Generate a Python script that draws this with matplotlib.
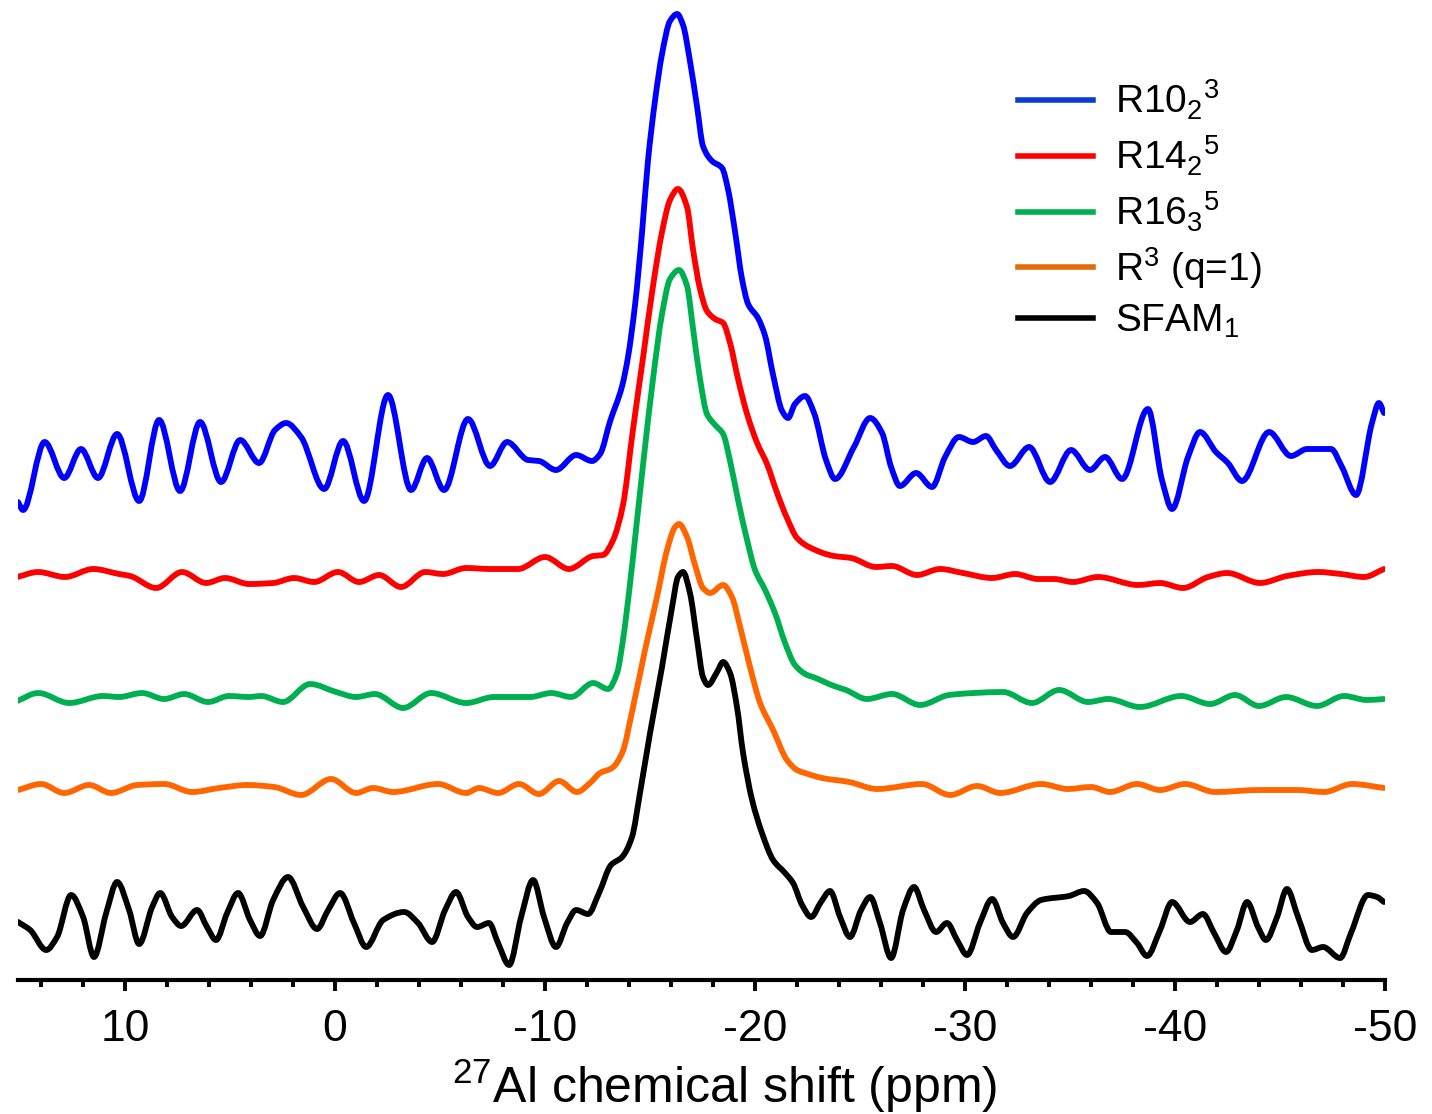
import matplotlib
matplotlib.use("Agg")
import matplotlib.pyplot as plt
from matplotlib.lines import Line2D
from matplotlib.path import Path
from matplotlib.patches import PathPatch

# ---------------- data (ppm, relative intensity) ----------------
blue_ppm = [15.10, 14.86, 13.83, 12.90, 12.10, 11.29, 10.38, 9.33, 8.38, 7.38, 6.43, 5.43, 4.52, 3.62,
            2.86, 2.33, 1.62, 0.52, -0.38, -1.38, -2.52, -3.62, -4.38, -5.19, -6.33, -7.38, -8.19,
            -9.19, -9.71, -10.52, -11.48, -12.24, -12.62, -13.10, -13.67, -13.95, -14.29, -14.62,
            -14.90, -15.24, -15.57, -15.95, -16.29, -16.57, -16.90, -17.24, -17.52, -17.95, -18.43,
            -18.71, -19.05, -19.38, -19.67, -20.14, -20.48, -20.86, -21.29, -21.57, -21.90, -22.38,
            -22.81, -23.38, -23.81, -24.71, -25.48, -26.05, -26.48, -26.90, -27.67, -28.43, -29.05,
            -29.71, -30.38, -31.00, -31.48, -32.14, -33.05, -34.05, -35.05, -35.95, -36.67, -37.48,
            -38.71, -39.38, -39.86, -40.62, -41.19, -41.95, -42.52, -43.19, -44.48, -45.52, -46.29,
            -47.43, -47.95, -48.62, -49.38, -49.71, -49.95]
blue_int = [-42, -50, 18, -18, 11, -18, 26, -41, 40, -31, 38, -22, 20, -3,
            30, 37, 23, -29, 19, -41, 65, -30, 2, -30, 41, -6, 18,
            0, -1, -10, 5, -1, 6, 39, 74, 103, 156, 228,
            299, 360, 406, 439, 446, 435, 399, 353, 314, 299, 292,
            271, 228, 181, 156, 142, 124, 85, 49, 42, 56, 64,
            47, 0, -19, 13, 42, 27, -7, -26, -13, -27, 3,
            23, 18, 24, 10, -6, 13, -22, 10, -10, 3, -19,
            51, -20, -49, 3, 28, 8, -3, -21, 28, 4, 11,
            11, -7, -35, 37, 57, 47]

red_ppm = [15.14, 14.14, 12.86, 11.52, 10.29, 9.76, 8.52, 7.29, 6.14, 5.24, 4.10, 2.95, 1.95, 1.00,
           -0.14, -1.14, -2.10, -3.14, -4.29, -5.14, -6.24, -7.38, -8.71, -10.00, -11.14, -12.29,
           -12.76, -13.24, -13.71, -14.19, -14.67, -15.14, -15.57, -15.95, -16.33, -16.76, -17.05,
           -17.38, -17.71, -18.10, -18.48, -18.81, -19.19, -19.62, -20.10, -20.57, -21.05, -21.52,
           -22.00, -22.57, -23.76, -24.57, -25.76, -26.52, -27.71, -28.81, -29.90, -31.29, -32.38,
           -33.48, -34.24, -35.14, -36.33, -38.24, -39.29, -40.38, -41.57, -42.48, -44.05, -45.33,
           -46.81, -47.90, -49.00, -49.95]
red_int = [-2, 3, -2, 6, 1, -1, -13, 3, -8, -3, -9, -8, -3, -7,
           3, -7, 0, -12, 3, 1, 7, 6, 6, 18, 6, 19,
           20, 35, 70, 146, 218, 289, 343, 375, 386, 368, 325,
           286, 264, 256, 252, 232, 196, 161, 132, 111, 82, 57,
           37, 28, 19, 17, 8, 9, 0, 6, 2, -3, 1,
           -4, -4, -7, -2, -10, -8, -13, -2, 2, -8, -1,
           3, 1, -2, 6]

green_ppm = [15.14, 14.14, 12.67, 11.05, 10.29, 9.19, 8.14, 7.19, 6.05, 5.05, 4.10, 3.52, 2.48, 1.19,
             -0.05, -1.00, -1.90, -3.24, -4.57, -6.24, -7.57, -9.29, -10.29, -11.24, -12.29, -13.00,
             -13.43, -13.71, -14.05, -14.38, -14.67, -15.14, -15.57, -15.95, -16.38, -16.76, -17.05,
             -17.38, -17.71, -18.10, -18.48, -18.81, -19.19, -19.62, -20.00, -20.48, -20.95, -21.43,
             -21.90, -22.48, -22.76, -23.76, -24.33, -25.33, -26.52, -27.86, -29.24, -30.43, -31.81,
             -33.19, -34.48, -35.86, -36.81, -38.33, -40.29, -41.67, -42.86, -44.00, -45.29, -46.76,
             -48.05, -49.14, -49.95]
green_int = [-4, 4, -6, 1, 0, 4, -2, 3, -5, 1, 0, 1, -5, 13,
             5, 0, 3, -11, 4, -6, 0, 0, 4, 0, 14, 8,
             24, 57, 114, 177, 233, 318, 383, 418, 427, 411, 368,
             318, 283, 272, 263, 236, 197, 157, 127, 107, 84, 54,
             32, 22, 20, 11, 7, -2, 3, -8, 2, 4, 5,
             -6, 7, -5, -2, -10, 1, -7, 2, -9, 0, -9,
             1, -3, -2]

orange_ppm = [15.10, 14.00, 12.90, 11.71, 10.67, 9.43, 8.14, 6.81, 5.52, 4.19, 2.90, 1.62, 0.19, -1.00,
              -1.81, -2.76, -4.90, -6.24, -6.86, -7.76, -8.76, -9.71, -10.67, -11.52, -12.14, -12.62,
              -13.19, -13.67, -14.19, -14.76, -15.33, -15.81, -16.19, -16.38, -16.76, -17.14, -17.52,
              -17.86, -18.48, -18.90, -19.29, -19.76, -20.24, -20.86, -21.52, -22.00, -22.52, -23.19,
              -24.48, -25.81, -27.95, -29.29, -30.57, -31.67, -33.62, -34.90, -36.00, -36.90, -38.19,
              -39.29, -40.48, -41.90, -44.05, -45.81, -47.10, -48.43, -49.95]
orange_int = [-2, 4, -5, 3, -5, 3, 4, -4, 0, 3, 1, -7, 9, -5,
              0, -4, 4, -5, 0, -5, 4, -6, 7, -4, 5, 15,
              20, 35, 81, 138, 191, 238, 261, 264, 251, 223, 200,
              195, 203, 191, 161, 121, 85, 58, 28, 18, 14, 10,
              6, -1, 4, -7, 2, -5, 4, -1, 1, -4, 4,
              -2, 4, -4, -2, -2, -4, 4, 0]

black_ppm = [15.10, 14.52, 13.76, 13.24, 12.57, 12.00, 11.48, 10.90, 10.38, 9.81, 9.33, 8.71, 8.33, 7.76,
             7.33, 6.57, 6.10, 5.67, 5.14, 4.62, 4.05, 3.57, 2.95, 2.24, 1.52, 0.86, 0.33, -0.24,
             -0.90, -1.48, -2.29, -3.29, -3.95, -4.62, -5.24, -5.76, -6.33, -6.76, -7.33, -7.76,
             -8.29, -8.86, -9.43, -9.95, -10.52, -11.05, -11.48, -12.05, -12.57, -13.14, -13.67,
             -14.14, -14.52, -15.00, -15.57, -16.05, -16.33, -16.57, -16.90, -17.24, -17.52, -17.76,
             -18.19, -18.48, -18.81, -19.14, -19.43, -19.86, -20.33, -20.86, -21.43, -21.81, -22.24,
             -22.67, -23.14, -23.57, -24.05, -24.52, -25.05, -25.48, -25.95, -26.48, -27.05, -27.57,
             -28.05, -28.62, -29.14, -29.62, -30.10, -30.71, -31.29, -31.81, -32.29, -32.95, -33.62,
             -34.95, -35.67, -36.29, -36.95, -37.62, -38.19, -38.67, -39.29, -39.86, -40.71, -41.33,
             -41.86, -42.43, -42.95, -43.43, -43.95, -44.33, -44.86, -45.33, -45.86, -46.52, -47.05,
             -47.86, -48.38, -49.19, -49.62, -49.95]
black_int = [-7, -15, -35, -22, 20, -2, -42, 2, 33, 5, -29, 8, 22, -2,
             -11, 5, -12, -25, 2, 22, -5, -21, 15, 38, 8, -14, 5, 22,
             -8, -32, -5, 3, -8, -27, 5, 23, -2, -12, -8, -28,
             -50, -2, 35, -2, -32, -8, 5, 1, 22, 50, 58,
             78, 122, 182, 248, 308, 338, 343, 322, 275, 238, 230,
             243, 253, 242, 208, 162, 115, 82, 55, 42, 32, 10,
             -2, 13, 24, -2, -22, 5, 18, -8, -43, 5, 28,
             5, -17, -8, -25, -40, -8, 16, -8, -22, 2, 15,
             19, 24, 12, -17, -17, -28, -41, -15, 13, -7, 1,
             -18, -37, -15, 13, -12, -25, -2, 26, -2, -35, -32,
             -43, -18, 20, 18, 13]

labels = ["R10$_{2}$$^{3}$", "R14$_{2}$$^{5}$", "R16$_{3}$$^{5}$", "R$^{3}$ (q=1)", "SFAM$_{1}$"]
colors = ["#0000FF", "#FF0000", "#00B050", "#FF6600", "#000000"]
legend_colors = ["#0A3CD2", "#FF0000", "#00B050", "#E46C0A", "#000000"]
offsets = [520, 405, 283, 192, 65]   # vertical stacking of the spectra

major_ticks = [10, 0, -10, -20, -30, -40, -50]
minor_ticks = [14, 12, 8, 6, 4, 2, -2, -4, -6, -8, -12, -14, -16, -18, -22, -24, -26, -28,
               -32, -34, -36, -38, -42, -44, -46, -48]


def smooth_path(xs, ys):
    """Smooth (shape-preserving Bezier) path drawn through the read points."""
    n = len(xs)
    d = [(ys[i + 1] - ys[i]) / (xs[i + 1] - xs[i]) for i in range(n - 1)]
    m = [0.0] * n
    m[0], m[-1] = d[0], d[-1]
    for i in range(1, n - 1):
        if d[i - 1] * d[i] <= 0:
            m[i] = 0.0
        else:
            h0 = xs[i] - xs[i - 1]
            h1 = xs[i + 1] - xs[i]
            w1 = 2 * h1 + h0
            w2 = h1 + 2 * h0
            m[i] = (w1 + w2) / (w1 / d[i - 1] + w2 / d[i])
    verts = [(xs[0], ys[0])]
    codes = [Path.MOVETO]
    for i in range(n - 1):
        h = xs[i + 1] - xs[i]
        verts += [(xs[i] + h / 3, ys[i] + m[i] * h / 3),
                  (xs[i + 1] - h / 3, ys[i + 1] - m[i + 1] * h / 3),
                  (xs[i + 1], ys[i + 1])]
        codes += [Path.CURVE4] * 3
    return Path(verts, codes)


# ---------------- figure ----------------
plt.rcParams['mathtext.fontset'] = 'custom'
plt.rcParams['mathtext.rm'] = 'Liberation Sans'
plt.rcParams['mathtext.it'] = 'Liberation Sans'
plt.rcParams['mathtext.bf'] = 'Liberation Sans'
plt.rcParams['font.family'] = ['Liberation Sans', 'DejaVu Sans']

fig = plt.figure(figsize=(14.32, 11.14), dpi=100)
ax = fig.add_axes([18 / 1432, 134 / 1114, 1367 / 1432, 980 / 1114])

series = [(blue_ppm, blue_int), (red_ppm, red_int), (green_ppm, green_int),
          (orange_ppm, orange_int), (black_ppm, black_int)]
for (xs, ys), c, off in zip(series, colors, offsets):
    path = smooth_path(xs, [v + off for v in ys])
    ax.add_patch(PathPatch(path, facecolor='none', edgecolor=c, lw=4.2,
                           capstyle='round', joinstyle='round'))

ax.set_xlim(15.1, -50.0)
ax.set_ylim(0, 980)

for s in ['top', 'left', 'right']:
    ax.spines[s].set_visible(False)
ax.spines['bottom'].set_linewidth(3.0)
ax.set_yticks([])
ax.set_xticks(major_ticks)
ax.set_xticklabels([str(t) for t in major_ticks])
ax.set_xticks(minor_ticks, minor=True)
ax.tick_params(axis='x', which='major', direction='out', length=8, width=2.8, pad=13,
               labelsize=32)
ax.tick_params(axis='x', which='minor', direction='out', length=5, width=2.8)
narrow = ['Liberation Sans Narrow', 'Liberation Sans', 'DejaVu Sans']
for lab in ax.get_xticklabels():
    lab.set_family(narrow)

ax.set_xlabel("$^{27}$Al chemical shift (ppm)", fontsize=36, family=narrow)
ax.xaxis.set_label_coords(0.517, -0.078)

handles = [Line2D([0], [0], color=c, lw=4.0) for c in legend_colors]
leg = ax.legend(handles, labels, loc='upper left', frameon=False,
                bbox_to_anchor=(1018 / 1432, 1 - 78 / 1114), bbox_transform=fig.transFigure,
                borderpad=0, borderaxespad=0, handlelength=1.93, handletextpad=0.57,
                labelspacing=0.30, fontsize=28)

fig.savefig("out.png", dpi=100)
